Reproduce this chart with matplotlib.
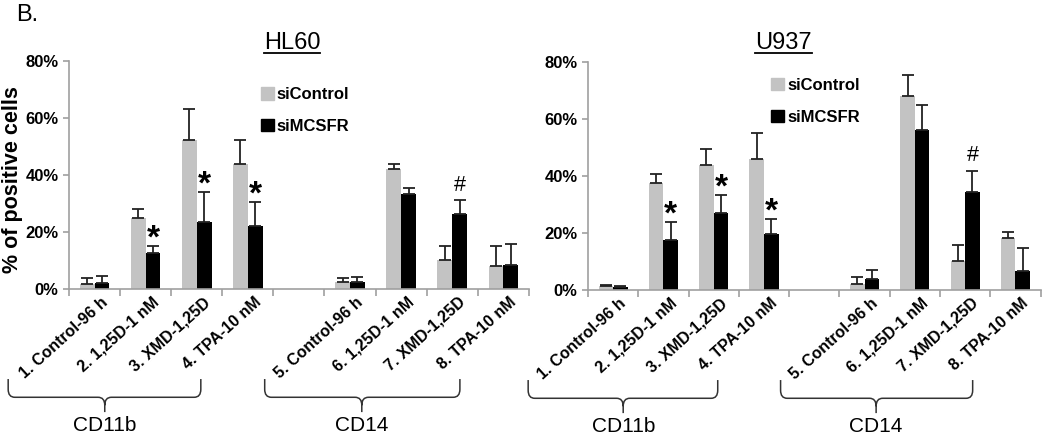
import matplotlib
matplotlib.use("Agg")
import matplotlib.pyplot as plt
import numpy as np
from matplotlib.path import Path
from matplotlib.patches import PathPatch, Patch
from matplotlib.ticker import PercentFormatter
import matplotlib.transforms as mtransforms

plt.rcParams['font.family'] = ['Liberation Sans', 'DejaVu Sans']

# categories (slot 4 is an empty gap between the CD11b and CD14 groups)
categories = ['1. Control-96 h', '2. 1,25D-1 nM', '3. XMD-1,25D', '4. TPA-10 nM',
              '5. Control-96 h', '6. 1,25D-1 nM', '7. XMD-1,25D', '8. TPA-10 nM']
positions = [0, 1, 2, 3, 5, 6, 7, 8]

# HL60 (% positive cells)
hl60_ctrl = [1.8, 24.9, 52.4, 43.9, 2.5, 42.2, 10.1, 8.0]
hl60_ctrl_err = [2.1, 3.2, 10.8, 8.5, 1.5, 1.5, 5.1, 7.2]
hl60_si = [2.1, 12.5, 23.4, 22.2, 2.5, 33.3, 26.2, 8.4]
hl60_si_err = [2.3, 2.7, 10.8, 8.3, 1.8, 2.1, 5.0, 7.3]
hl60_marks = ['', '*', '*', '*', '', '', '#', '']

# U937 (% positive cells)
u937_ctrl = [1.4, 37.6, 44.0, 46.1, 2.1, 68.2, 10.3, 18.2]
u937_ctrl_err = [0.5, 3.2, 5.6, 9.0, 2.3, 7.1, 5.6, 2.0]
u937_si = [1.1, 17.5, 26.9, 19.5, 3.9, 56.2, 34.5, 6.7]
u937_si_err = [0.2, 6.3, 6.6, 5.5, 3.1, 8.6, 7.4, 7.9]
u937_marks = ['', '*', '*', '*', '', '', '#', '']

groups = ['CD11b', 'CD14']

gray = '#C3C3C3'
axis_gray = '#A0A0A0'


def brace(ax, x0, x1, xc, ytop=-0.395, ymid=-0.475, ytip=-0.54, rx=0.13, ry=0.035):
    tr = mtransforms.blended_transform_factory(ax.transData, ax.transAxes)
    verts = [(x0, ytop), (x0, ymid + ry), (x0, ymid), (x0 + rx, ymid),
             (xc - rx, ymid), (xc, ymid), (xc, ymid - ry), (xc, ytip),
             (xc, ymid - ry), (xc, ymid), (xc + rx, ymid),
             (x1 - rx, ymid), (x1, ymid), (x1, ymid + ry), (x1, ytop)]
    codes = [Path.MOVETO, Path.LINETO, Path.CURVE3, Path.CURVE3,
             Path.LINETO, Path.CURVE3, Path.CURVE3, Path.LINETO,
             Path.MOVETO, Path.CURVE3, Path.CURVE3,
             Path.LINETO, Path.CURVE3, Path.CURVE3, Path.LINETO]
    p = PathPatch(Path(verts, codes), transform=tr, fill=False, lw=1.1,
                  edgecolor='#333333', clip_on=False)
    ax.add_patch(p)


def panel(ax, ctrl, ctrl_err, si, si_err, marks, leg_xy):
    x = np.array(positions, dtype=float)
    w = 0.29
    ekw = dict(ecolor='#222222', elinewidth=1.3, capthick=1.3)
    ax.bar(x - w / 2, ctrl, w, color=gray, label='siControl',
           yerr=[np.zeros(len(ctrl)), ctrl_err], capsize=4, error_kw=ekw)
    ax.bar(x + w / 2, si, w, color='black', label='siMCSFR',
           yerr=[np.zeros(len(si)), si_err], capsize=4, error_kw=ekw)
    for xi, v, e, m in zip(x, si, si_err, marks):
        if m == '*':
            ax.text(xi + w / 2, v + e - 0.6, '*', ha='center', va='baseline',
                    fontsize=24, fontweight='bold')
        elif m == '#':
            ax.text(xi + w / 2, v + e + 1.5, '#', ha='center', va='bottom',
                    fontsize=15.5)

    ax.set_xlim(-0.5, 8.5)
    ax.set_ylim(0, 80)
    ax.yaxis.set_major_formatter(PercentFormatter(decimals=0))
    ax.set_yticks([0, 20, 40, 60, 80])
    for s in ['top', 'right']:
        ax.spines[s].set_visible(False)
    for s in ['left', 'bottom']:
        ax.spines[s].set_color(axis_gray)
        ax.spines[s].set_linewidth(1.2)
    ax.tick_params(axis='y', colors=axis_gray, length=4, width=1.2,
                   labelcolor='black', labelsize=12)
    for t in ax.get_yticklabels():
        t.set_fontweight('bold')

    ax.set_xticks(positions)
    ax.set_xticklabels(categories, rotation=42, ha='right', va='center',
                       rotation_mode='anchor', fontsize=11.5, fontweight='bold')
    ax.set_xticks(np.arange(-0.5, 9.0, 1.0), minor=True)
    ax.tick_params(axis='x', which='major', length=0, pad=8)
    ax.tick_params(axis='x', which='minor', length=5, width=1.2, color=axis_gray)
    off = mtransforms.ScaledTranslation(0.11, 0, ax.figure.dpi_scale_trans)
    for t in ax.get_xticklabels():
        t.set_transform(t.get_transform() + off)

    ax.legend(handles=[Patch(color=gray), Patch(color='black')],
              labels=['siControl', 'siMCSFR'], loc='upper left',
              bbox_to_anchor=leg_xy, frameon=False, handlelength=0.75,
              handleheight=0.75, handletextpad=0.2, labelspacing=1.0,
              prop={'weight': 'bold', 'size': 12})

    tr = mtransforms.blended_transform_factory(ax.transData, ax.transAxes)
    brace(ax, -1.69, 2.08, 0.2)
    brace(ax, 3.33, 7.15, 5.23)
    ax.text(0.2, -0.6, groups[0], transform=tr, ha='center', va='center',
            fontsize=15)
    ax.text(5.23, -0.6, groups[1], transform=tr, ha='center', va='center',
            fontsize=15)


fig = plt.figure(figsize=(10.5, 4.37), dpi=100)
ax1 = fig.add_axes([0.0657, 0.3387, 0.438, 0.5217])
ax2 = fig.add_axes([0.56, 0.3364, 0.431, 0.5217])

panel(ax1, hl60_ctrl, hl60_ctrl_err, hl60_si, hl60_si_err, hl60_marks,
      (0.385, 0.95))
panel(ax2, u937_ctrl, u937_ctrl_err, u937_si, u937_si_err, u937_marks,
      (0.372, 0.995))

# underlined panel titles
fig.text(0.278, 0.888, 'HL60', fontsize=17, ha='center', va='baseline')
fig.text(0.746, 0.888, 'U937', fontsize=17, ha='center', va='baseline')
fig.add_artist(plt.Line2D([0.251, 0.305], [0.878, 0.878], color='black', lw=1.3))
fig.add_artist(plt.Line2D([0.719, 0.773], [0.878, 0.878], color='black', lw=1.3))

fig.text(0.015, 0.99, 'B.', fontsize=17, ha='left', va='top')
fig.text(0.012, 0.588, '% of positive cells', rotation=90, fontsize=15.5,
         fontweight='bold', ha='center', va='center')

fig.savefig('out.png', dpi=100)
